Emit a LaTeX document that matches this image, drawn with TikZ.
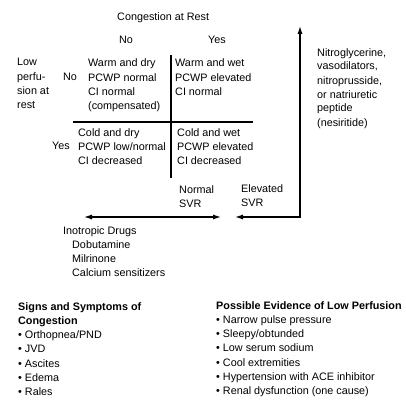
\documentclass[tikz,border=0pt]{standalone}
\usepackage{fontspec}
\setmainfont{Liberation Sans}
\usetikzlibrary{arrows.meta}
\begin{document}
\begin{tikzpicture}[x=1pt,y=-1pt,
  txt/.style={anchor=base west,inner sep=0pt,align=left,font=\fontsize{10.8}{14.3}\selectfont},
  bold/.style={txt,font=\fontsize{10.8}{14.3}\selectfont\bfseries},
  thick line/.style={line width=2pt},
  arr/.style={line width=2pt,{Latex[length=9pt,width=5pt]}-{Latex[length=9pt,width=5pt]}}]
\useasboundingbox (0,0) rectangle (406,409);
% headings (multi-line nodes are placed by the baseline of their last line)
\node[txt] (title) at (117,21) {Congestion at Rest};
\node[txt] (colno) at (119,44) {No};
\node[txt] (colyes) at (208,44) {Yes};
\node[txt] (lowp) at (17,108.9) {Low\\perfu-\\sion at\\rest};
\node[txt] (rowno) at (63,81) {No};
\node[txt] (rowyes) at (52,149) {Yes};
% quadrants
\node[txt] (ul) at (88,109.9) {Warm and dry\\PCWP normal\\CI normal\\(compensated)};
\node[txt] (ur) at (175,95.6) {Warm and wet\\PCWP elevated\\CI normal};
\node[txt] (ll) at (78,164.6) {Cold and dry\\PCWP low/normal\\CI decreased};
\node[txt] (lr) at (177,164.6) {Cold and wet\\PCWP elevated\\CI decreased};
% grid lines
\coordinate (vt) at (171,55);
\coordinate (vb) at (171,178);
\coordinate (hl) at (73,122);
\coordinate (hr) at (253,122);
\draw[thick line] (vt) -- (vb);
\draw[thick line] (hl) -- (hr);
% SVR labels
\node[txt] (nsvr) at (179,207.3) {Normal\\SVR};
\node[txt] (esvr) at (241,206.3) {Elevated\\SVR};
% arrows
\coordinate (al) at (83,217);
\coordinate (ar) at (222,217);
\coordinate (bl) at (234,217);
\coordinate (bc) at (300,217);
\coordinate (bt) at (300,25);
\draw[arr] (al) -- (ar);
\draw[arr] (bl) -- (bc) -- (bt);
% drugs
\node[txt] (ino) at (63,234) {Inotropic Drugs};
\node[txt] (inol) at (72,276.6) {Dobutamine\\Milrinone\\Calcium sensitizers};
\node[txt,font=\fontsize{10.8}{14}\selectfont] (nitro) at (317,126) {Nitroglycerine,\\vasodilators,\\nitroprusside,\\or natriuretic\\peptide\\(nesiritide)};
% bottom lists
\node[bold] (signs) at (18,324.3) {Signs and Symptoms of\\Congestion};
\node[txt] (signl) at (18,395.8) {• Orthopnea/PND\\• JVD\\• Ascites\\• Edema\\• Rales};
\node[bold] (evid) at (216,309) {Possible Evidence of Low Perfusion};
\node[txt] (evidl) at (216,394.8) {• Narrow pulse pressure\\• Sleepy/obtunded\\• Low serum sodium\\• Cool extremities\\• Hypertension with ACE inhibitor\\• Renal dysfunction (one cause)};
\end{tikzpicture}
\end{document}
